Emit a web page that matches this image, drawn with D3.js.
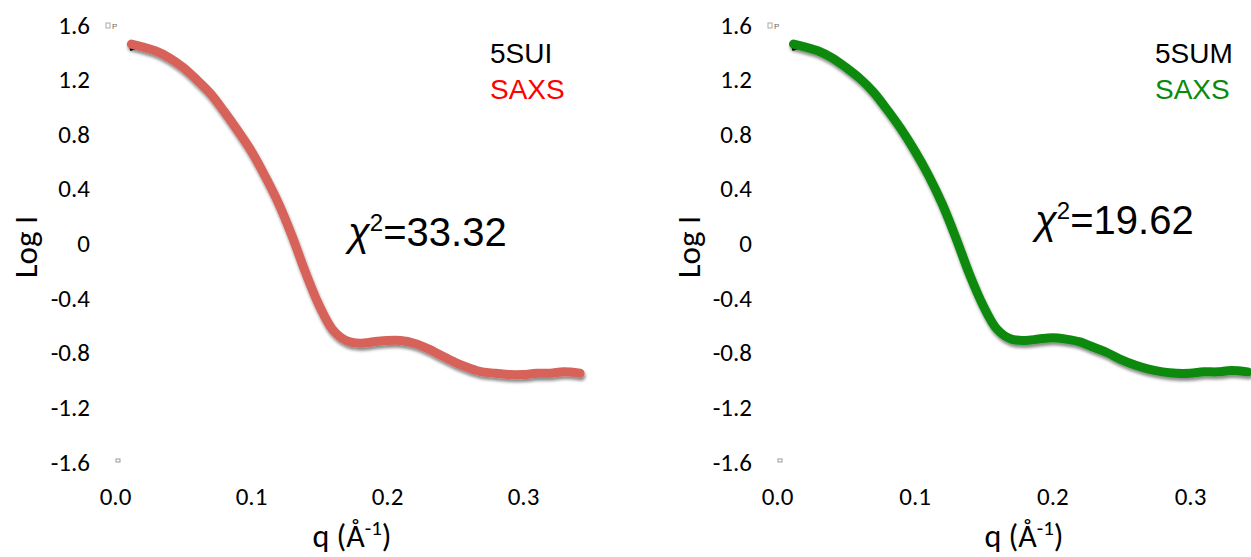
<!DOCTYPE html>
<html lang="en">
<head>
<meta charset="UTF-8">
<script src="https://d3js.org/d3.v7.min.js"></script>
<style>
  body { margin: 0; background: #fff; }
  .tick text { font-family: Carlito, "Open Sans", sans-serif; font-size: 25px; fill: #000; }
  .title { font-family: Carlito, "Open Sans", sans-serif; fill: #000; }
  .arial { font-family: "Liberation Sans", Arial, sans-serif; }
</style>
</head>
<body>
<div id="container"></div>
<script>
// scattering vector q (1/A), shared by both panels
var qValues = [0.012, 0.02, 0.03, 0.04, 0.05, 0.06, 0.07, 0.08, 0.09, 0.10,
               0.11, 0.12, 0.13, 0.14, 0.15, 0.16, 0.17, 0.18, 0.19, 0.20,
               0.21, 0.22, 0.23, 0.24, 0.25, 0.26, 0.27, 0.28, 0.29, 0.30,
               0.31, 0.32, 0.33, 0.342];
// log I, 5SUI
var logI5SUI = [1.46, 1.44, 1.41, 1.36, 1.29, 1.20, 1.10, 0.97, 0.83, 0.68,
                0.50, 0.30, 0.06, -0.21, -0.45, -0.63, -0.71, -0.73, -0.72, -0.71,
                -0.71, -0.73, -0.77, -0.82, -0.87, -0.91, -0.94, -0.95, -0.96, -0.96,
                -0.95, -0.95, -0.94, -0.95];
// log I, 5SUM
var logI5SUM = [1.46, 1.44, 1.41, 1.36, 1.29, 1.21, 1.11, 0.98, 0.84, 0.68,
                0.50, 0.29, 0.04, -0.23, -0.46, -0.63, -0.70, -0.71, -0.70, -0.69,
                -0.70, -0.72, -0.76, -0.80, -0.85, -0.89, -0.92, -0.94, -0.95, -0.95,
                -0.94, -0.94, -0.93, -0.94];
var yTicks = [1.6, 1.2, 0.8, 0.4, 0, -0.4, -0.8, -1.2, -1.6];
var xTicks = [0.0, 0.1, 0.2, 0.3];

var panels = [
  { name: "5SUI", values: logI5SUI, color: "#d6625a", legendColor: "#ff0000", chi: "33.32",
    x0: 115, x3: 523, yAxisX: 96, yTitleX: 37, legendX: 490, chiX: 348, chiY: 246, titleX: 352 },
  { name: "5SUM", values: logI5SUM, color: "#0b8a0b", legendColor: "#0b8a0b", chi: "19.62",
    x0: 777, x3: 1190, yAxisX: 758, yTitleX: 700, legendX: 1155, chiX: 1035, chiY: 234, titleX: 1024 }
];

var svg = d3.select("#container").append("svg")
  .attr("width", 1251)
  .attr("height", 557);

// soft drop shadow under the data band
var filter = svg.append("defs").append("filter")
  .attr("id", "shadow")
  .attr("x", "-10%").attr("y", "-10%")
  .attr("width", "120%").attr("height", "130%");
filter.append("feDropShadow")
  .attr("dx", 1).attr("dy", 3)
  .attr("stdDeviation", 1.6)
  .attr("flood-color", "#000")
  .attr("flood-opacity", 0.45);

var y = d3.scaleLinear().domain([-1.6, 1.6]).range([462, 25]);

panels.forEach(function (p) {
  var x = d3.scaleLinear().domain([0, 0.3]).range([p.x0, p.x3]);
  var g = svg.append("g");

  // y axis labels only
  var yAxis = g.append("g")
    .attr("transform", "translate(" + p.yAxisX + ",0)")
    .call(d3.axisLeft(y).tickValues(yTicks).tickSize(0).tickPadding(6)
      .tickFormat(function (d) { return d === 0 ? "0" : d.toFixed(1); }));
  yAxis.select(".domain").remove();

  // x axis labels only
  var xAxis = g.append("g")
    .attr("transform", "translate(0,481)")
    .call(d3.axisBottom(x).tickValues(xTicks).tickSize(0).tickPadding(6)
      .tickFormat(d3.format(".1f")));
  xAxis.select(".domain").remove();

  // axis titles
  var qt = g.append("text")
    .attr("class", "title")
    .attr("x", p.titleX)
    .attr("y", 547)
    .attr("font-size", "32px")
    .attr("text-anchor", "middle")
    .text("q (Å");
  qt.append("tspan").attr("dy", -12).attr("font-size", "21px").text("-1");
  qt.append("tspan").attr("dy", 12).text(")");

  g.append("text")
    .attr("class", "title")
    .attr("font-size", "33px")
    .attr("transform", "translate(" + p.yTitleX + ",247) rotate(-90)")
    .attr("text-anchor", "middle")
    .text("Log I");

  // tiny marker remnants near the corners
  g.append("rect")
    .attr("x", x(0) - 9).attr("y", 23).attr("width", 4).attr("height", 5)
    .attr("fill", "none").attr("stroke", "#aaa").attr("stroke-width", 1);
  g.append("text")
    .attr("x", x(0) - 3).attr("y", 29)
    .attr("font-size", "8px").attr("fill", "#666").attr("class", "arial")
    .text("P");
  g.append("rect")
    .attr("x", x(0) + 1).attr("y", 459).attr("width", 4).attr("height", 3)
    .attr("fill", "none").attr("stroke", "#999").attr("stroke-width", 1);

  var pts = qValues.map(function (q, i) { return [q, p.values[i]]; });
  var line = d3.line()
    .curve(d3.curveCatmullRom)
    .x(function (d) { return x(d[0]); })
    .y(function (d) { return y(d[1]); });

  // model curve (black), mostly hidden beneath the data
  g.append("path")
    .datum([[0.011, 1.42]].concat(pts.slice(1)))
    .attr("fill", "none")
    .attr("stroke", "#000")
    .attr("stroke-width", 3)
    .attr("d", line);

  // SAXS data band
  g.append("path")
    .datum(pts)
    .attr("fill", "none")
    .attr("stroke", p.color)
    .attr("stroke-width", 9)
    .attr("stroke-linecap", "round")
    .attr("stroke-linejoin", "round")
    .attr("filter", "url(#shadow)")
    .attr("d", line);

  // legend
  g.append("text")
    .attr("class", "arial")
    .attr("x", p.legendX).attr("y", 63)
    .attr("font-size", "28px").attr("fill", "#000")
    .text(p.name);
  g.append("text")
    .attr("class", "arial")
    .attr("x", p.legendX).attr("y", 99)
    .attr("font-size", "28px").attr("fill", p.legendColor)
    .text("SAXS");

  // chi-square label
  var chi = g.append("text")
    .attr("class", "arial")
    .attr("x", p.chiX).attr("y", p.chiY)
    .attr("font-size", "40px").attr("fill", "#000");
  chi.append("tspan").attr("font-style", "italic").text("χ");
  chi.append("tspan").attr("dy", -15).attr("font-size", "24px").text("2");
  chi.append("tspan").attr("dy", 15).text("=" + p.chi);
});
</script>
</body>
</html>
